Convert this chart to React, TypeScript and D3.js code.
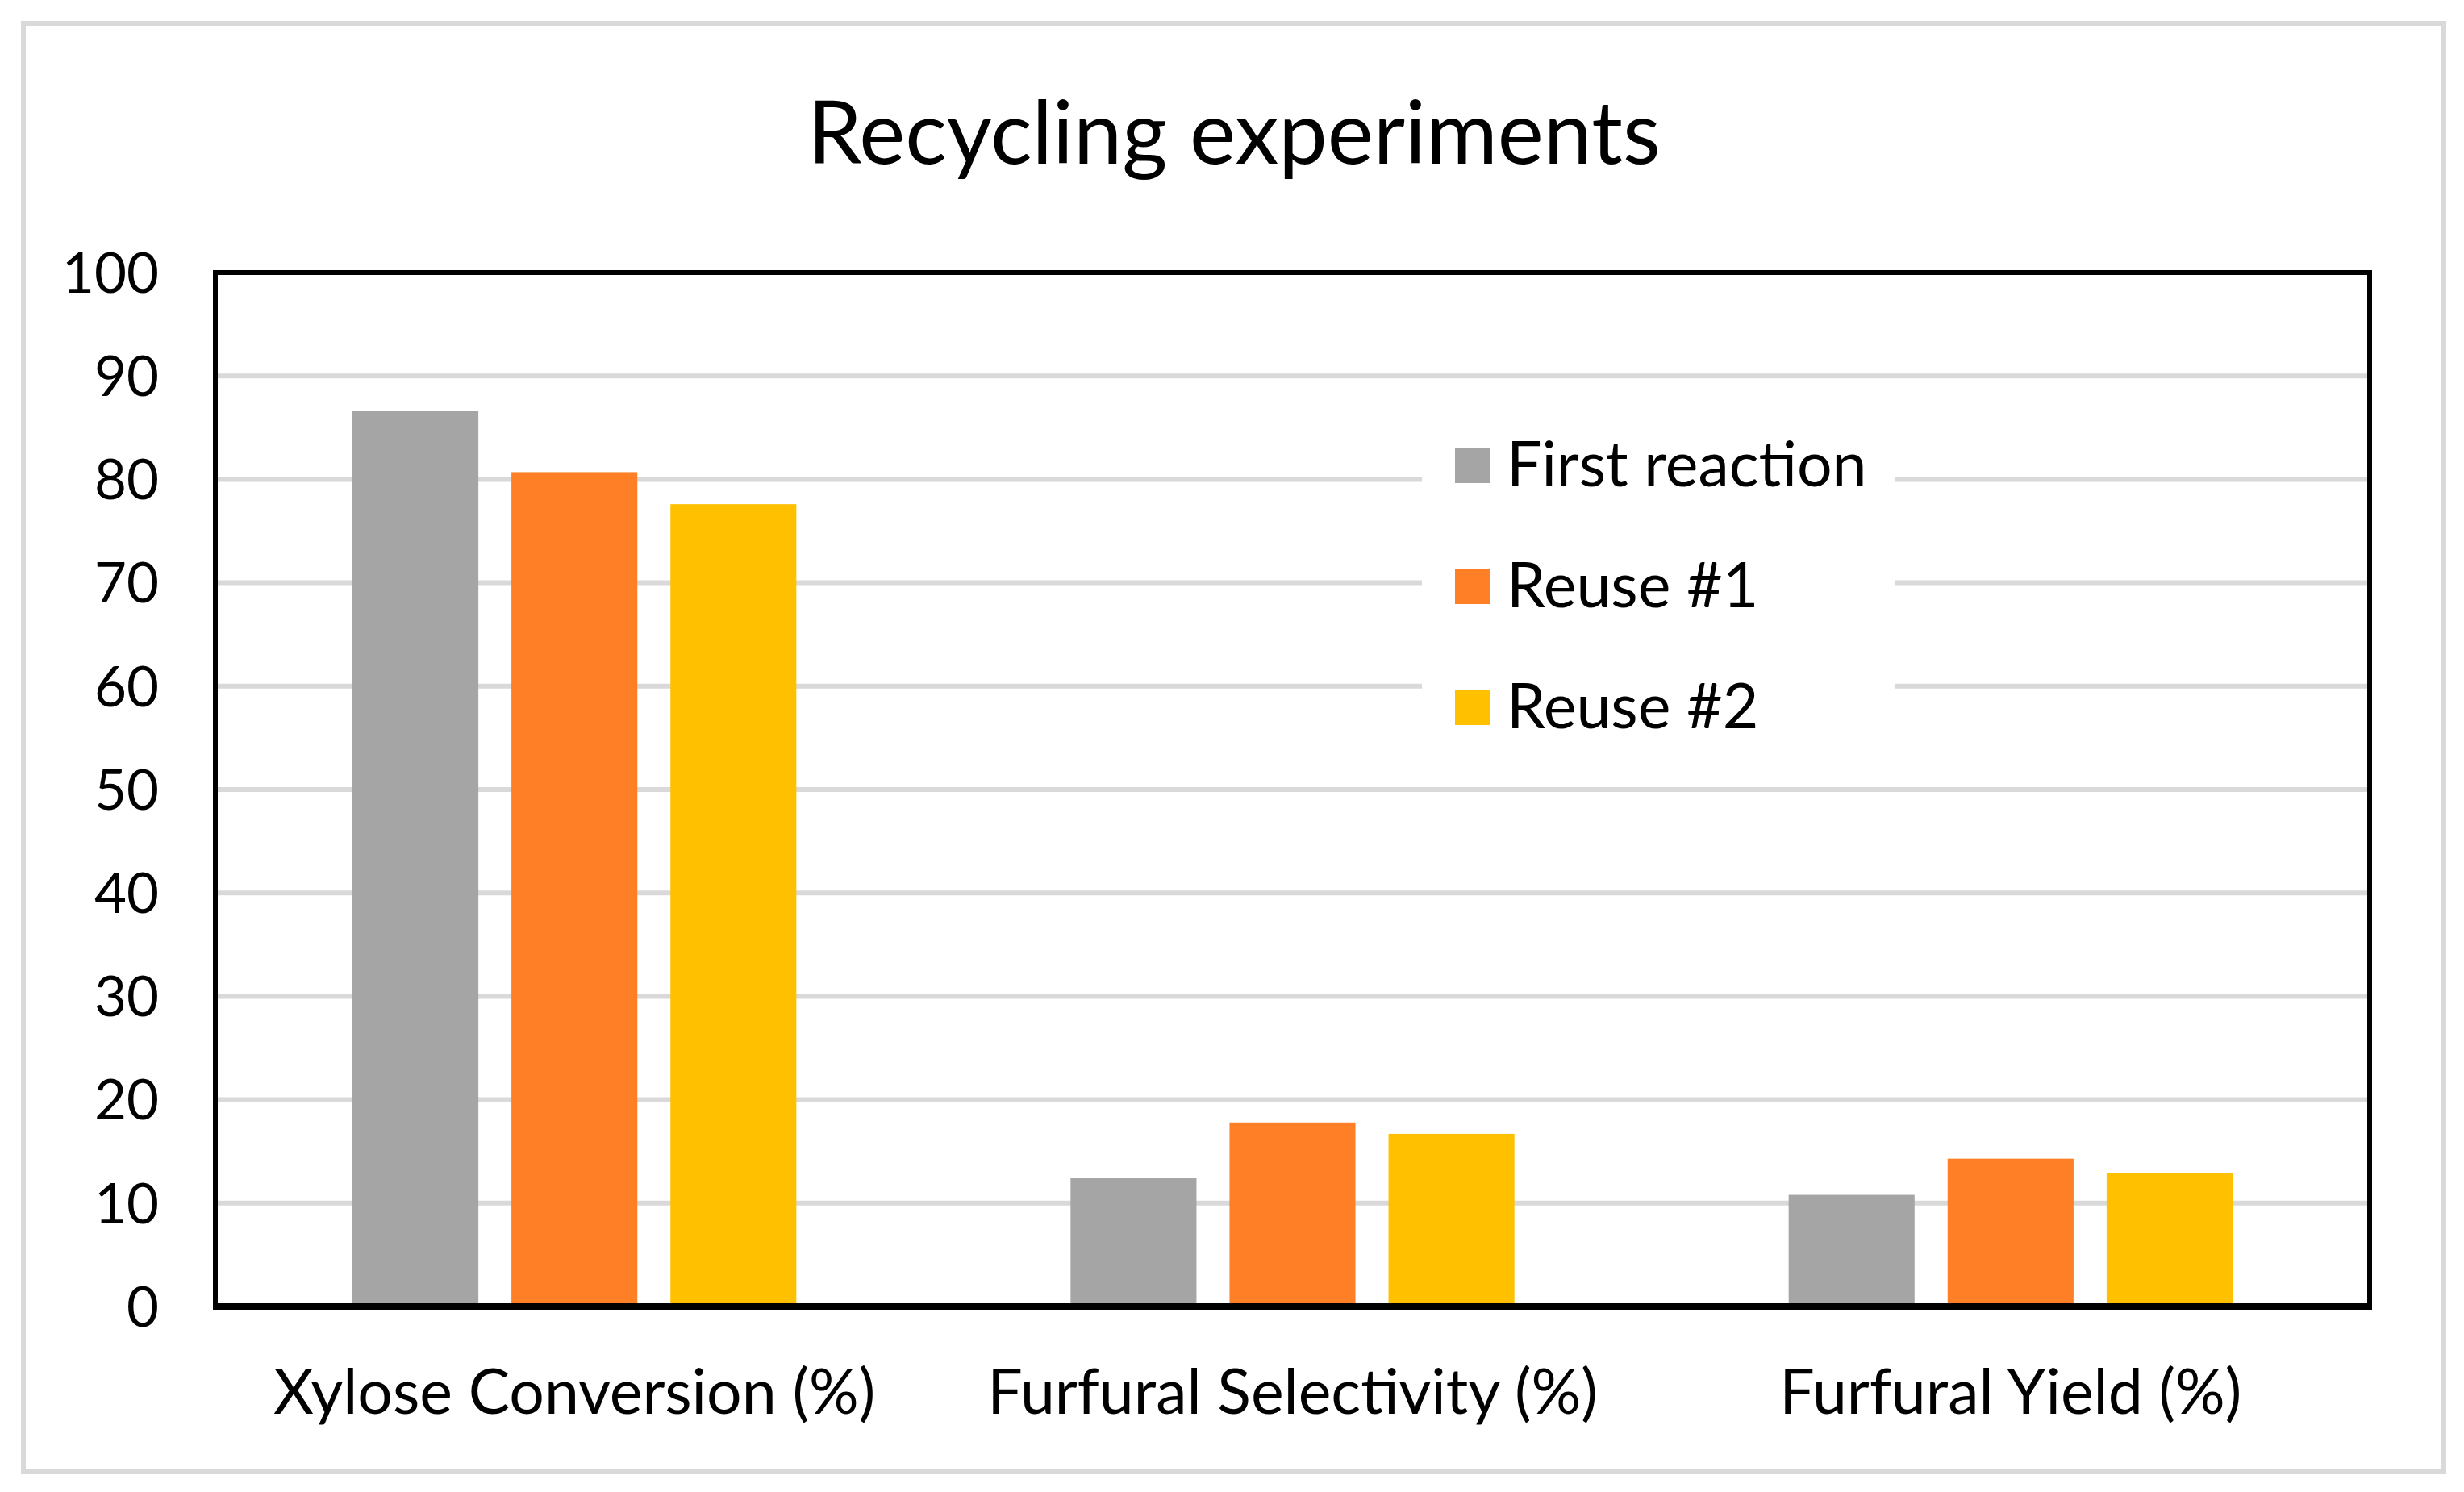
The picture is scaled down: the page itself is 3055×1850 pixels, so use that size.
import React, { useEffect, useRef } from "react";
import * as d3 from "d3";

const title = "Recycling experiments";
const categories = ["Xylose Conversion (%)", "Furfural Selectivity (%)", "Furfural Yield (%)"];
const seriesNames = ["First reaction", "Reuse #1", "Reuse #2"];
const firstReaction = [86.6, 12.4, 10.8];
const reuse1 = [80.7, 17.8, 14.3];
const reuse2 = [77.6, 16.7, 12.9];
const seriesColors = ["#A5A5A5", "#FF7F27", "#FFC000"];
const yTicks = [0, 10, 20, 30, 40, 50, 60, 70, 80, 90, 100];

const W = 3055;
const H = 1850;
const FONT = "Lato, 'Open Sans', sans-serif";

export default function App() {
  const ref = useRef<SVGSVGElement | null>(null);

  useEffect(() => {
    const svg = d3.select(ref.current);
    svg.selectAll("*").remove();

    const seriesValues = [firstReaction, reuse1, reuse2];
    const left = 267, right = 2938, top = 338, bottom = 1620;

    svg.append("rect").attr("x", 0).attr("y", 0).attr("width", W).attr("height", H).attr("fill", "#fff");
    // outer frame
    svg.append("rect").attr("x", 29).attr("y", 29).attr("width", 3030 - 29).attr("height", 1825 - 29)
      .attr("fill", "none").attr("stroke", "#D9D9D9").attr("stroke-width", 6);

    const y = d3.scaleLinear().domain([0, 100]).range([bottom, top]);
    const x0 = d3.scaleBand<string>().domain(categories).range([left, right]).padding(0);
    const bw = x0.bandwidth();
    const outer = 170;
    const x1 = d3.scaleBand<string>().domain(seriesNames).range([outer, bw - outer]).paddingInner(0.208).paddingOuter(0);

    // gridlines
    svg.append("g").selectAll("line").data(yTicks.filter(t => t > 0 && t < 100)).join("line")
      .attr("x1", left).attr("x2", right)
      .attr("y1", d => y(d)).attr("y2", d => y(d))
      .attr("stroke", "#D9D9D9").attr("stroke-width", 6);

    // bars
    const g = svg.append("g");
    categories.forEach((c, ci) => {
      seriesNames.forEach((s, si) => {
        const v = seriesValues[si][ci];
        g.append("rect")
          .attr("x", (x0(c) as number) + (x1(s) as number))
          .attr("y", y(v))
          .attr("width", x1.bandwidth())
          .attr("height", y(0) - y(v))
          .attr("fill", seriesColors[si]);
      });
    });

    // legend box
    svg.append("rect").attr("x", 1763).attr("y", 505).attr("width", 2350 - 1763).attr("height", 440).attr("fill", "#fff");
    const lg = svg.append("g");
    seriesNames.forEach((s, i) => {
      const cy = 577 + i * 150;
      lg.append("rect").attr("x", 1804).attr("y", cy - 22).attr("width", 43).attr("height", 44).attr("fill", seriesColors[i]);
      lg.append("text").attr("x", 1868).attr("y", cy).attr("dy", "0.34em")
        .attr("font-family", FONT).attr("font-size", 77).attr("fill", "#000").text(s);
    });

    // plot border
    svg.append("path")
      .attr("d", `M${left},${bottom} L${left},${top} L${right},${top} L${right},${bottom}`)
      .attr("fill", "none").attr("stroke", "#000").attr("stroke-width", 6);
    svg.append("line").attr("x1", left - 3).attr("x2", right + 3).attr("y1", bottom).attr("y2", bottom)
      .attr("stroke", "#000").attr("stroke-width", 8);

    // y tick labels
    svg.append("g").selectAll("text").data(yTicks).join("text")
      .attr("x", 197).attr("y", d => y(d)).attr("dy", "0.36em")
      .attr("text-anchor", "end").attr("font-family", FONT).attr("font-size", 69).attr("fill", "#000")
      .text(d => String(d));

    // category labels
    svg.append("g").selectAll("text").data(categories).join("text")
      .attr("x", d => (x0(d) as number) + bw / 2).attr("y", 1753)
      .attr("text-anchor", "middle").attr("font-family", FONT).attr("font-size", 77).attr("fill", "#000")
      .text(d => d);

    // title
    svg.append("text").attr("x", 1530).attr("y", 203).attr("text-anchor", "middle")
      .attr("font-family", FONT).attr("font-size", 108).attr("fill", "#000").text(title);
  }, []);

  return (
    <div style={{ position: "absolute", left: 0, top: 0 }}>
      <svg ref={ref} width={W} height={H} style={{ display: "block" }} />
    </div>
  );
}
